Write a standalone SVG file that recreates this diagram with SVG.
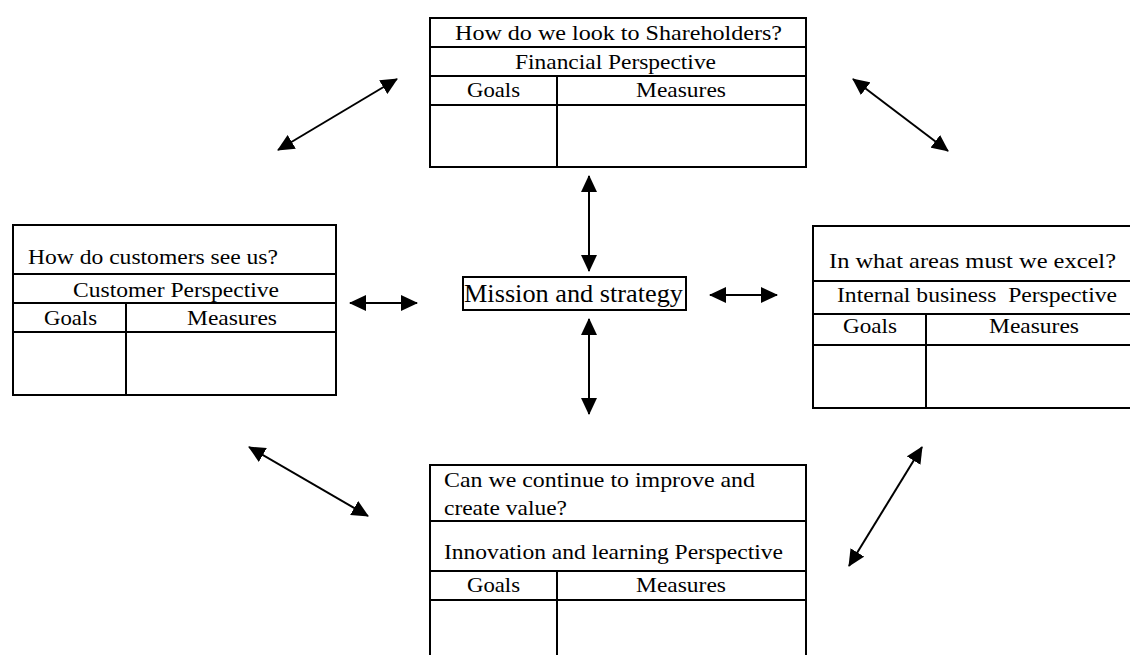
<svg xmlns="http://www.w3.org/2000/svg" width="1130" height="655" viewBox="0 0 1130 655">
<style>
.box{fill:#fff;stroke:#000;stroke-width:2}
.ln{stroke:#000;stroke-width:2;fill:none}
text{font-family:'Times New Roman','Liberation Serif',Times,serif;font-size:21px;fill:#000}
.conn line{stroke:#000;stroke-width:2;marker-start:url(#ah);marker-end:url(#ah)}
</style>
<defs>
<marker id="ah" markerUnits="userSpaceOnUse" markerWidth="18" markerHeight="16" refX="16" refY="8" orient="auto-start-reverse" viewBox="0 0 18 16">
<path d="M0,0 L17,8 L0,16 z" fill="#000"/>
</marker>
</defs>
<rect width="1130" height="655" fill="#fff"/>

<g id="financial">
<rect class="box" x="430" y="18" width="376" height="149"/>
<line class="ln" x1="430" y1="47" x2="806" y2="47"/>
<line class="ln" x1="430" y1="76" x2="806" y2="76"/>
<line class="ln" x1="430" y1="105" x2="806" y2="105"/>
<line class="ln" x1="557" y1="76" x2="557" y2="167"/>
<text x="455" y="40" textLength="327" lengthAdjust="spacingAndGlyphs">How do we look to Shareholders?</text>
<text x="515" y="69" textLength="201" lengthAdjust="spacingAndGlyphs">Financial Perspective</text>
<text x="467" y="97" textLength="53" lengthAdjust="spacingAndGlyphs">Goals</text>
<text x="636" y="97" textLength="90" lengthAdjust="spacingAndGlyphs">Measures</text>
</g>

<g id="customer">
<rect class="box" x="13" y="225" width="323" height="170"/>
<line class="ln" x1="13" y1="274" x2="336" y2="274"/>
<line class="ln" x1="13" y1="303" x2="336" y2="303"/>
<line class="ln" x1="13" y1="332" x2="336" y2="332"/>
<line class="ln" x1="126" y1="303" x2="126" y2="395"/>
<text x="28" y="264" textLength="250" lengthAdjust="spacingAndGlyphs">How do customers see us?</text>
<text x="73" y="297" textLength="206" lengthAdjust="spacingAndGlyphs">Customer Perspective</text>
<text x="44" y="325" textLength="53" lengthAdjust="spacingAndGlyphs">Goals</text>
<text x="187" y="325" textLength="90" lengthAdjust="spacingAndGlyphs">Measures</text>
</g>

<g id="internal">
<rect class="box" x="813" y="226" width="329" height="182"/>
<line class="ln" x1="813" y1="281" x2="1142" y2="281"/>
<line class="ln" x1="813" y1="314" x2="1142" y2="314"/>
<line class="ln" x1="813" y1="345" x2="1142" y2="345"/>
<line class="ln" x1="926" y1="314" x2="926" y2="408"/>
<text x="829" y="268" textLength="287" lengthAdjust="spacingAndGlyphs">In what areas must we excel?</text>
<text x="837" y="302" textLength="280" lengthAdjust="spacingAndGlyphs" xml:space="preserve">Internal business  Perspective</text>
<text x="843" y="333" textLength="54" lengthAdjust="spacingAndGlyphs">Goals</text>
<text x="989" y="333" textLength="90" lengthAdjust="spacingAndGlyphs">Measures</text>
</g>

<g id="innovation">
<rect class="box" x="430" y="465" width="376" height="200"/>
<line class="ln" x1="430" y1="521" x2="806" y2="521"/>
<line class="ln" x1="430" y1="571" x2="806" y2="571"/>
<line class="ln" x1="430" y1="600" x2="806" y2="600"/>
<line class="ln" x1="557" y1="571" x2="557" y2="665"/>
<text x="444" y="487" textLength="311" lengthAdjust="spacingAndGlyphs">Can we continue to improve and</text>
<text x="444" y="515" textLength="123" lengthAdjust="spacingAndGlyphs">create value?</text>
<text x="444" y="559" textLength="339" lengthAdjust="spacingAndGlyphs">Innovation and learning Perspective</text>
<text x="467" y="592" textLength="53" lengthAdjust="spacingAndGlyphs">Goals</text>
<text x="636" y="592" textLength="90" lengthAdjust="spacingAndGlyphs">Measures</text>
</g>

<g id="mission">
<rect class="box" x="463" y="277" width="223" height="33"/>
<text x="464" y="302" style="font-size:25px" textLength="219" lengthAdjust="spacingAndGlyphs">Mission and strategy</text>
</g>

<g id="connectors" class="conn">
<line x1="278" y1="150" x2="397" y2="79"/>
<line x1="853" y1="79" x2="948" y2="151"/>
<line x1="249" y1="447" x2="368" y2="516"/>
<line x1="922" y1="447" x2="849" y2="566"/>
<line x1="589" y1="176" x2="589" y2="271"/>
<line x1="589" y1="319" x2="589" y2="414"/>
<line x1="350" y1="303" x2="417" y2="303"/>
<line x1="710" y1="295" x2="777" y2="295"/>
</g>
</svg>
